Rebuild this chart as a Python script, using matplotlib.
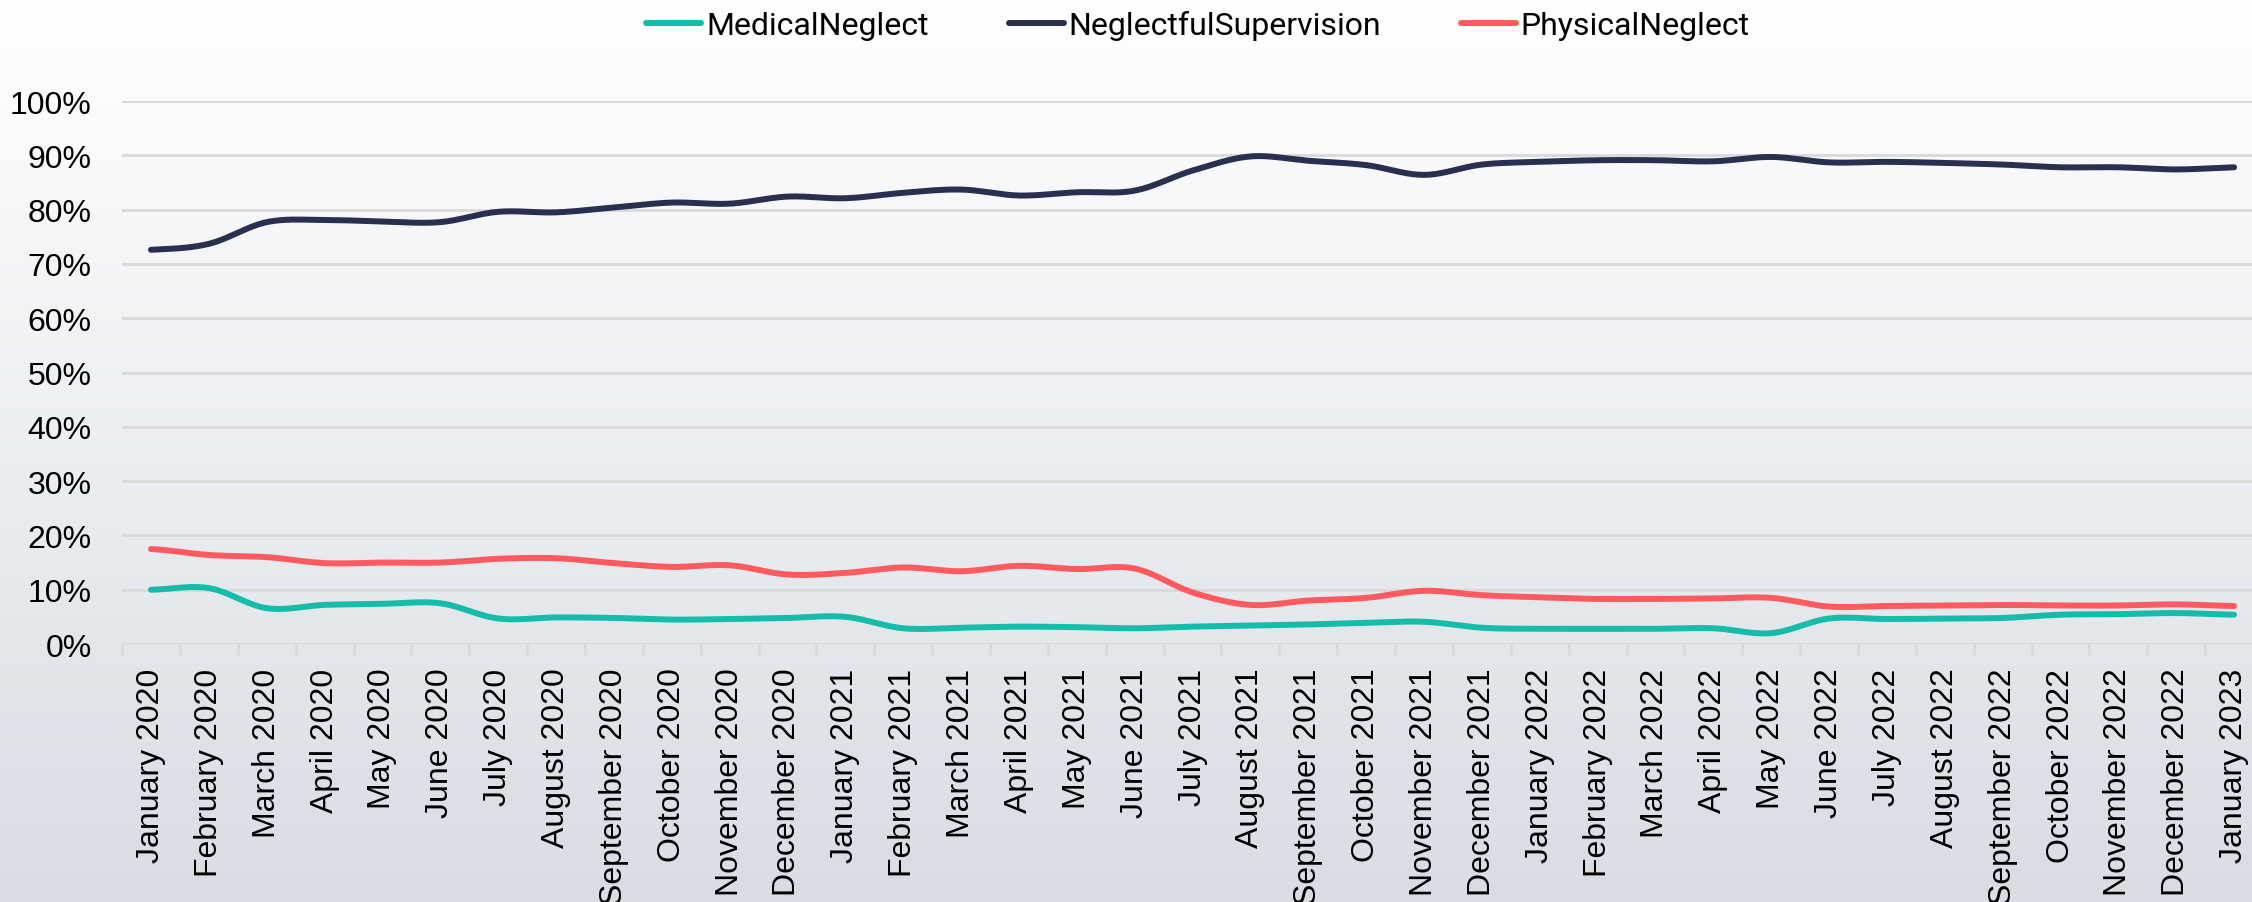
import numpy as np
import matplotlib
matplotlib.use("Agg")
import matplotlib.pyplot as plt
from matplotlib.ticker import PercentFormatter

months = ["January", "February", "March", "April", "May", "June", "July",
          "August", "September", "October", "November", "December"]
labels = ["%s %d" % (months[i % 12], 2020 + i // 12) for i in range(37)]

medical = [10.0, 10.3, 6.6, 7.2, 7.4, 7.5, 4.7, 4.9, 4.8, 4.5, 4.6, 4.8, 5.0,
           2.9, 3.0, 3.2, 3.1, 2.9, 3.2, 3.4, 3.6, 3.9, 4.1, 3.0, 2.8, 2.8,
           2.8, 2.9, 2.0, 4.7, 4.6, 4.7, 4.8, 5.4, 5.5, 5.7, 5.4]
supervision = [72.6, 73.7, 77.7, 78.1, 77.8, 77.7, 79.6, 79.5, 80.4, 81.3, 81.1,
               82.4, 82.1, 83.1, 83.7, 82.6, 83.2, 83.5, 87.2, 89.8, 89.0, 88.2,
               86.4, 88.3, 88.8, 89.1, 89.1, 88.9, 89.7, 88.7, 88.8, 88.6, 88.3,
               87.8, 87.8, 87.4, 87.8]
physical = [17.5, 16.4, 16.0, 14.9, 15.0, 15.0, 15.7, 15.8, 14.9, 14.2, 14.5,
            12.8, 13.1, 14.1, 13.4, 14.4, 13.8, 13.9, 9.5, 7.2, 8.0, 8.5, 9.8,
            9.0, 8.6, 8.3, 8.3, 8.4, 8.5, 6.9, 7.0, 7.1, 7.2, 7.1, 7.1, 7.3, 7.0]

series = [("MedicalNeglect", medical, "#15BCAA"),
          ("NeglectfulSupervision", supervision, "#292F4F"),
          ("PhysicalNeglect", physical, "#FF5A5F")]


def smooth(y, n=20):
    # catmull-rom, like excel's smoothed line
    y = np.asarray(y, dtype=float)
    p = np.concatenate([[y[0]], y, [y[-1]]])
    xs, ys = [], []
    t = np.linspace(0, 1, n, endpoint=False)
    for i in range(len(y) - 1):
        p0, p1, p2, p3 = p[i], p[i + 1], p[i + 2], p[i + 3]
        m1 = (p2 - p0) / 2
        m2 = (p3 - p1) / 2
        h00 = 2 * t**3 - 3 * t**2 + 1
        h10 = t**3 - 2 * t**2 + t
        h01 = -2 * t**3 + 3 * t**2
        h11 = t**3 - t**2
        xs.append(i + t)
        ys.append(h00 * p1 + h10 * m1 + h01 * p2 + h11 * m2)
    xs.append([len(y) - 1])
    ys.append([y[-1]])
    return np.concatenate(xs), np.concatenate(ys)


fig = plt.figure(figsize=(22.52, 9.03), dpi=100)

# background gradient
bg = fig.add_axes([0, 0, 1, 1], zorder=-1)
top = np.array([255, 255, 255]) / 255
bot = np.array([216, 221, 228]) / 255
g = np.linspace(0, 1, 256)[:, None, None]
bg.imshow(top * (1 - g) + bot * g, aspect="auto", extent=[0, 1, 0, 1])
bg.axis("off")

ax = fig.add_axes([0.0542, 0.2857, 0.9507, 0.6013])
ax.set_facecolor("none")

for name, vals, col in series:
    xs, ys = smooth(vals)
    ax.plot(xs, ys, color=col, lw=4.3, solid_capstyle="round", label=name)

ax.set_xlim(-0.5, 36.5)
ax.set_ylim(0, 100)
ax.set_yticks(np.arange(0, 101, 10))
ax.yaxis.set_major_formatter(PercentFormatter(decimals=0))
ax.grid(axis="y", color="#d9d9d9", lw=2)
ax.set_axisbelow(True)
for s in ["top", "right", "left", "bottom"]:
    ax.spines[s].set_visible(False)

ax.set_xticks(np.arange(37))
ax.set_xticklabels(labels, rotation=90, fontsize=23, family="Liberation Sans")
ax.set_xticks(np.arange(-0.5, 37, 1), minor=True)
ax.tick_params(axis="x", which="major", length=0, pad=17)
ax.tick_params(axis="x", which="minor", length=8, width=2, color="#d9d9d9")
ax.tick_params(axis="y", length=0, pad=22, labelsize=23)
for t in ax.get_yticklabels():
    t.set_family("Liberation Sans")

fig.legend(loc="upper center", bbox_to_anchor=(0.532, 1.02), ncol=3,
           frameon=False, prop={"family": "Roboto", "size": 23},
           handlelength=1.72, handletextpad=0.15, columnspacing=2.5)

fig.savefig("out.png", dpi=100)
